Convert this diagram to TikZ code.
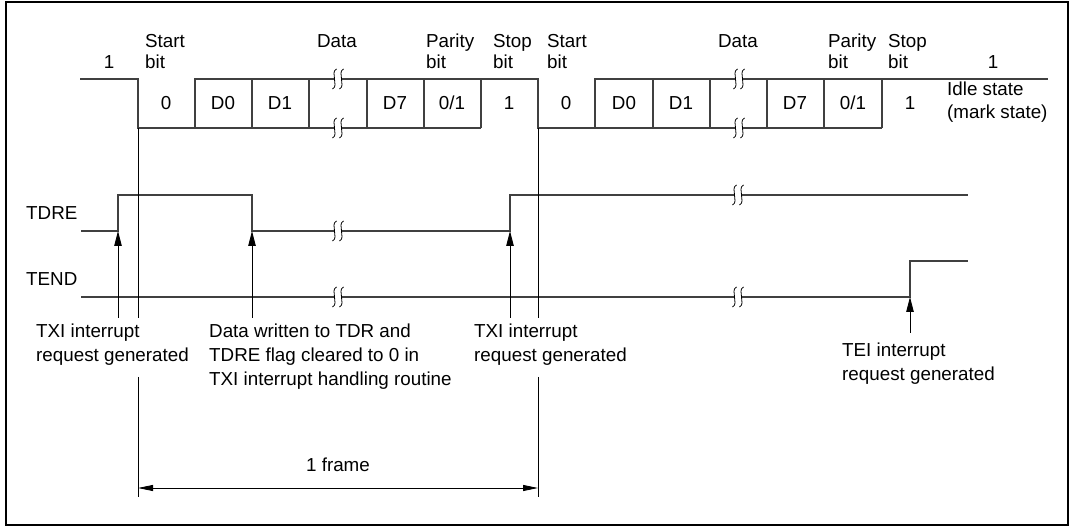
\documentclass[tikz,border=0pt]{standalone}
\usepackage{fontspec}
\setmainfont{Liberation Sans}
\usetikzlibrary{arrows.meta}
\begin{document}
\begin{tikzpicture}[x=1pt,y=-1pt,
  sig/.style={line width=1.3pt, draw=black!75},
  guide/.style={line width=0.9pt, draw=black},
  uparr/.style={line width=0.9pt, draw=black, -{Triangle[length=15pt,width=7.5pt]}},
  dimarr/.style={line width=0.9pt, draw=black, {Triangle[length=15pt,width=6pt]}-{Triangle[length=15pt,width=6pt]}},
  txt/.style={inner sep=0pt, font=\fontsize{18.8}{21}\selectfont},
  lbl/.style={txt, anchor=base west, align=left},
  lblb/.style={inner sep=0pt, anchor=base west, align=left, font=\fontsize{18.8}{24}\selectfont},
  bitl/.style={txt, anchor=base},
  brkmark/.pic={
    \fill[white] (-3.5,-1.6) rectangle (3.5,1.6);
    \foreach \dx in {-3.5,3.5}{
      \draw[line width=0.8pt, black] (\dx,0) ++(2,-10) .. controls ++(-4,2) and ++(0,-4) .. ++(-2,10)
        .. controls ++(0,4) and ++(4,-2) .. ++(-2,10);
    }
  }
]
\useasboundingbox (0,0) rectangle (1069,526);
\draw[line width=2pt] (5.7,2) rectangle (1067.5,525);

% serial waveform
\draw[sig] (80,79) -- (138,79) -- (138,128) -- (481,128);
\draw[sig] (195,128) -- (195,79) -- (538,79) -- (538,128) -- (882,128);
\foreach \x in {252,309,367,424,481} \draw[sig] (\x,79) -- (\x,128);
\draw[sig] (595,128) -- (595,79) -- (1048,79);
\foreach \x in {653,710,767,824,882} \draw[sig] (\x,79) -- (\x,128);

% TDRE / TEND
\draw[sig] (81,231) -- (118,231) -- (118,195) -- (252,195) -- (252,231) -- (510,231) -- (510,195) -- (968,195);
\draw[sig] (81,297) -- (910,297) -- (910,261) -- (968,261);

% break marks
\foreach \p in {(338,79),(338,128),(739,79),(739,128),(338,231),(338,297),(738,195),(738,297)}
  \pic at \p {brkmark};

% guide lines
\coordinate (g1top) at (138,128);
\coordinate (g1a) at (138,318);
\coordinate (g1b) at (138,377);
\coordinate (g1bot) at (138,497);
\coordinate (g2top) at (538,128);
\coordinate (g2a) at (538,318);
\coordinate (g2b) at (538,377);
\coordinate (g2bot) at (538,497);
\draw[guide] (g1top) -- (g1a) (g1b) -- (g1bot);
\draw[guide] (g2top) -- (g2a) (g2b) -- (g2bot);

% arrows
\draw[uparr] (118,318) -- (118,231);
\draw[uparr] (252,318) -- (252,231);
\draw[uparr] (510,318) -- (510,231);
\draw[uparr] (910,333) -- (910,297);
\draw[dimarr] (138,488) -- (538,488);

% top labels (base anchor = baseline of the last line)
\node[bitl] (one1) at (109,69) {1};
\node[lbl] (st1) at (145,69) {Start\\bit};
\node[bitl] (da1) at (337,48) {Data};
\node[lbl] (pa1) at (426,69) {Parity\\bit};
\node[lbl] (sp1) at (493,69) {Stop\\bit};
\node[lbl] (st2) at (547,69) {Start\\bit};
\node[bitl] (da2) at (738,48) {Data};
\node[lbl] (pa2) at (828,69) {Parity\\bit};
\node[lbl] (sp2) at (888,69) {Stop\\bit};
\node[bitl] (one2) at (993,69) {1};
\node[lbl, font=\fontsize{18.8}{23}\selectfont] (idle) at (947,119) {Idle state\\(mark state)};

% bit labels
\node[bitl] at (166,110) {0};
\node[bitl] at (223,110) {D0};
\node[bitl] at (280,110) {D1};
\node[bitl] at (395,110) {D7};
\node[bitl] at (452,110) {0/1};
\node[bitl] at (509,110) {1};
\node[bitl] at (566,110) {0};
\node[bitl] at (624,110) {D0};
\node[bitl] at (681,110) {D1};
\node[bitl] at (795,110) {D7};
\node[bitl] at (853,110) {0/1};
\node[bitl] at (910,110) {1};

% signal names
\node[lbl] (tdre) at (26,220) {TDRE};
\node[lbl] (tend) at (26,286) {TEND};

% bottom labels
\node[lblb] (txi1) at (36,362) {TXI interrupt\\request generated};
\node[lblb] (dw) at (209,386) {Data written to TDR and\\TDRE flag cleared to 0 in\\TXI interrupt handling routine};
\node[lblb] (txi2) at (474,362) {TXI interrupt\\request generated};
\node[lblb] (tei) at (842,381) {TEI interrupt\\request generated};
\node[bitl] (frm) at (338,472) {1 frame};
\end{tikzpicture}
\end{document}
